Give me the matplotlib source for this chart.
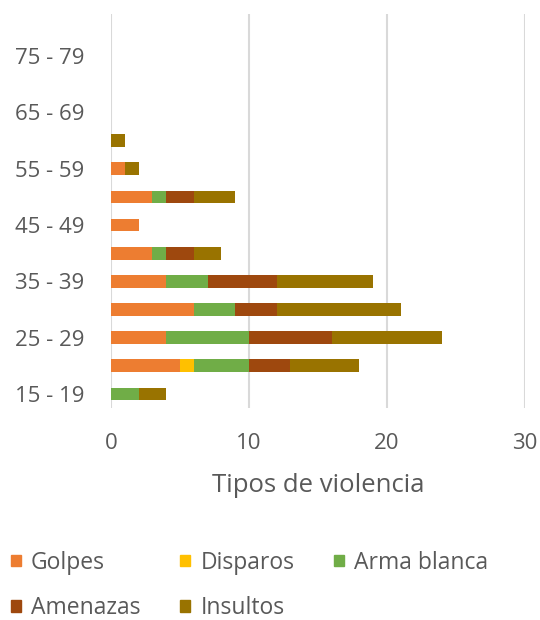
import matplotlib
matplotlib.use("Agg")
import matplotlib.pyplot as plt
import numpy as np
from matplotlib.patches import Patch

plt.rcParams['font.family'] = ['Open Sans', 'DejaVu Sans']

categories = ["15 - 19", "20 - 24", "25 - 29", "30 - 34", "35 - 39", "40 - 44", "45 - 49",
              "50 - 54", "55 - 59", "60 - 64", "65 - 69", "70 - 74", "75 - 79", "80 - 84"]
golpes      = [0, 5, 4, 6, 4, 3, 2, 3, 1, 0, 0, 0, 0, 0]
disparos    = [0, 1, 0, 0, 0, 0, 0, 0, 0, 0, 0, 0, 0, 0]
arma_blanca = [2, 4, 6, 3, 3, 1, 0, 1, 0, 0, 0, 0, 0, 0]
amenazas    = [0, 3, 6, 3, 5, 2, 0, 2, 0, 0, 0, 0, 0, 0]
insultos    = [2, 5, 8, 9, 7, 2, 0, 3, 1, 1, 0, 0, 0, 0]

series = [("Golpes", golpes, "#ED7D31"),
          ("Disparos", disparos, "#FFC000"),
          ("Arma blanca", arma_blanca, "#70AD47"),
          ("Amenazas", amenazas, "#9E480E"),
          ("Insultos", insultos, "#997300")]

txt = "#595959"
fig = plt.figure(figsize=(5.4, 6.2), dpi=100)
ax = fig.add_axes([111/540, 1-408/620, (525-111)/540, (408-14)/620])

y = np.arange(len(categories))
left = np.zeros(len(categories))
for name, vals, col in series:
    v = np.array(vals, dtype=float)
    ax.barh(y, v, left=left, height=0.45, color=col, label=name, zorder=3)
    left += v

ax.set_xlim(0, 30)
ax.set_ylim(-0.5, len(categories) - 0.5)
ax.set_xticks([0, 10, 20, 30])
ax.set_yticks(y[::2])
ax.set_yticklabels(categories[::2])
ax.tick_params(axis='both', length=0, labelsize=16, colors=txt)
ax.tick_params(axis='y', pad=19)
ax.tick_params(axis='x', pad=18)
ax.grid(axis='x', color='#d9d9d9', linewidth=1.5, zorder=0)
for s in ax.spines.values():
    s.set_visible(False)
ax.set_xlabel("Tipos de violencia", fontsize=18.5, color=txt, labelpad=14)

handles = {n: Patch(color=c, label=n) for n, _, c in series}
order = ["Golpes", "Amenazas", "Disparos", "Insultos", "Arma blanca"]
fig.legend(handles=[handles[n] for n in order], loc='upper left',
           bbox_to_anchor=(-0.018, 1-530/620),
           ncol=3, frameon=False, fontsize=16.5, labelcolor=txt,
           handlelength=0.42, handleheight=0.42, handletextpad=0.45,
           columnspacing=1.75, labelspacing=0.95)

fig.savefig("out.png", dpi=100)
